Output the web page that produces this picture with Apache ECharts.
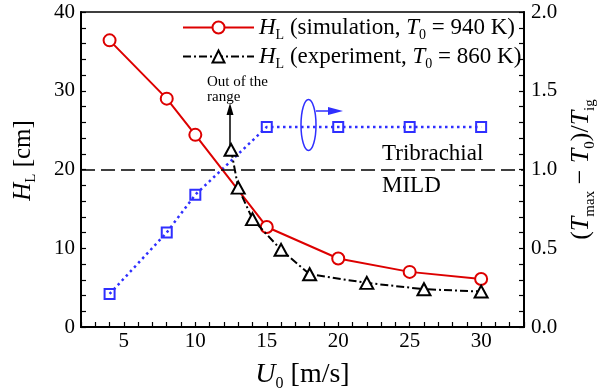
<!DOCTYPE html>
<html>
<head>
<meta charset="utf-8">
<script src="https://cdn.jsdelivr.net/npm/echarts@6/dist/echarts.min.js"></script>
<style>
html,body{margin:0;padding:0;background:#fff;}
#chart{width:600px;height:392px;}
</style>
</head>
<body>
<div id="chart"></div>
<script>
// ---- data ----
const simU = [4, 8, 10, 15, 20, 25, 30];
const simH = [36.4, 29.0, 24.4, 12.7, 8.7, 7.0, 6.1];
const expU = [12.5, 13, 14, 16, 18, 22, 26, 30];
const expH = [22.5, 17.7, 13.7, 9.8, 6.7, 5.6, 4.8, 4.5];
const ratioU = [4, 8, 10, 15, 20, 25, 30];
const ratioV = [0.21, 0.60, 0.84, 1.27, 1.27, 1.27, 1.27];
const boundaryH = 20;
const xLabelValues = [5, 10, 15, 20, 25, 30];
const yLeftLabelValues = [0, 10, 20, 30, 40];
const yRightLabelValues = [0, 0.5, 1.0, 1.5, 2.0];

const FONT = "'Liberation Serif','Times New Roman',serif";
const RED = '#dd0000', BLUE = '#2f2fff', BLACK = '#000';

function pairs(xs, ys) { return xs.map((x, i) => [x, ys[i]]); }
function isIn(v, arr) { return arr.some(a => Math.abs(a - v) < 1e-6); }

function richSet(size, subSize, pad) {
  return {
    i: { fontFamily: FONT, fontStyle: 'italic', fontSize: size, color: '#000' },
    s: { fontFamily: FONT, fontSize: subSize, color: '#000', padding: [pad, 0, 0, 0] },
    n: { fontFamily: FONT, fontSize: size, color: '#000' }
  };
}

const chart = echarts.init(document.getElementById('chart'), null, { renderer: 'canvas' });

const option = {
  backgroundColor: '#fff',
  animation: false,
  grid: { left: 81, right: 76, top: 12, bottom: 65, containLabel: false, outerBoundsMode: 'none', show: true, borderColor: '#000', borderWidth: 1.5, backgroundColor: 'transparent' },
  legend: {
    data: ['sim', 'exp'],
    orient: 'vertical',
    left: 177,
    top: 11,
    itemWidth: 71,
    itemHeight: 15,
    itemGap: 3,
    formatter: function (name) {
      if (name === 'sim') return '{i|H}{s|L}{n| (simulation, }{i|T}{s|0}{n| = 940 K)}';
      return '{i|H}{s|L}{n| (experiment, }{i|T}{s|0}{n| = 860 K)}';
    },
    textStyle: { fontFamily: FONT, fontSize: 23, color: '#000', rich: richSet(23, 14, 15) }
  },
  xAxis: {
    type: 'value', min: 2, max: 33, interval: 1,
    name: '{i|U}{s|0}{n| [m/s]}',
    nameLocation: 'middle', nameGap: 31,
    nameTextStyle: { fontFamily: FONT, fontSize: 28, color: '#000', rich: richSet(28, 16, 18) },
    axisLine: { show: true, lineStyle: { color: '#000', width: 2 } },
    axisTick: { show: true, inside: true, length: 5, lineStyle: { color: '#000', width: 1.2 } },
    axisLabel: {
      margin: 4, fontFamily: FONT, fontSize: 21, color: '#000',
      formatter: v => isIn(v, xLabelValues) ? String(v) : ''
    },
    splitLine: { show: false }
  },
  yAxis: [
    {
      type: 'value', min: 0, max: 40, interval: 2, position: 'left',
      name: '{i|H}{s|L}{n| [cm]}',
      nameLocation: 'middle', nameGap: 42, nameRotate: 90,
      nameTextStyle: { fontFamily: FONT, fontSize: 25, color: '#000', padding: [0, 0, 0, 18], rich: richSet(25, 15, 16) },
      axisLine: { show: true, lineStyle: { color: '#000', width: 2 } },
      axisTick: { show: true, inside: true, length: 5, lineStyle: { color: '#000', width: 1.2 } },
      axisLabel: {
        margin: 6, fontFamily: FONT, fontSize: 21, color: '#000',
        formatter: v => isIn(v, yLeftLabelValues) ? String(Math.round(v)) : ''
      },
      splitLine: { show: false }
    },
    {
      type: 'value', min: 0, max: 2, interval: 0.1, position: 'right',
      name: '{n|(}{i|T}{s|max}{n| − }{i|T}{s|0}{n|)/}{i|T}{s|ig}',
      nameLocation: 'middle', nameGap: 40, nameRotate: 90,
      nameTextStyle: { fontFamily: FONT, fontSize: 26, color: '#000', rich: richSet(26, 15, 17) },
      axisLine: { show: true, lineStyle: { color: '#000', width: 2 } },
      axisTick: { show: true, inside: true, length: 5, lineStyle: { color: '#000', width: 1.2 } },
      axisLabel: {
        margin: 7, fontFamily: FONT, fontSize: 21, color: '#000',
        formatter: v => isIn(v, yRightLabelValues) ? v.toFixed(1) : ''
      },
      splitLine: { show: false }
    }
  ],
  series: [
    {
      name: 'ratio', type: 'line', yAxisIndex: 1,
      data: pairs(ratioU, ratioV),
      symbol: 'rect', symbolSize: 10,
      lineStyle: { color: BLUE, width: 2.5, type: [2.5, 3.5] },
      itemStyle: { color: 'rgba(0,0,0,0)', borderColor: BLUE, borderWidth: 2 },
      z: 2
    },
    {
      name: 'sim', type: 'line', yAxisIndex: 0,
      data: pairs(simU, simH),
      symbol: 'emptyCircle', symbolSize: 12,
      lineStyle: { color: RED, width: 2 },
      itemStyle: { color: RED, borderColor: RED, borderWidth: 2 },
      markLine: {
        silent: true, symbol: 'none', label: { show: false },
        lineStyle: { color: '#000', width: 1.5, type: [14, 6] },
        data: [{ yAxis: boundaryH }]
      },
      z: 3
    },
    {
      name: 'exp', type: 'line', yAxisIndex: 0,
      data: pairs(expU, expH),
      symbol: 'emptyTriangle', symbolSize: [13, 12],
      lineStyle: { color: BLACK, width: 2, type: [8, 3, 2, 3] },
      itemStyle: { color: BLACK, borderColor: BLACK, borderWidth: 2.5 },
      z: 4
    }
  ],
  graphic: [
    { type: 'text', left: 382, top: 142, style: { text: 'Tribrachial', font: "23px " + FONT, fill: '#000' } },
    { type: 'text', left: 382, top: 174, style: { text: 'MILD', font: "23px " + FONT, fill: '#000' } },
    { type: 'text', left: 207, top: 75, style: { text: 'Out of the\nrange', font: "15px " + FONT, fill: '#000', lineHeight: 15 } },
    // black arrow
    { type: 'line', shape: { x1: 230, y1: 145, x2: 230, y2: 112 }, style: { stroke: '#000', lineWidth: 1.5 } },
    { type: 'polygon', shape: { points: [[230, 103], [226.5, 115], [233.5, 115]] }, style: { fill: '#000' } },
    // blue ellipse and arrow
    { type: 'ellipse', shape: { cx: 308.5, cy: 125, rx: 7.5, ry: 25.5 }, style: { stroke: BLUE, lineWidth: 1.5, fill: 'none' } },
    { type: 'line', shape: { x1: 316, y1: 111, x2: 333, y2: 111 }, style: { stroke: BLUE, lineWidth: 1.5 } },
    { type: 'polygon', shape: { points: [[343, 111], [328, 107], [328, 115]] }, style: { fill: BLUE } }
  ]
};
chart.setOption(option);
</script>
</body>
</html>
